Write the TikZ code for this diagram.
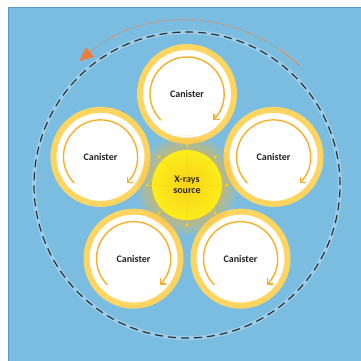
\documentclass[tikz,border=0pt]{standalone}
\usepackage{fontspec}
\setmainfont{Carlito}
\definecolor{sky}{HTML}{7BBDE1}
\definecolor{skyedge}{HTML}{5A9BC6}
\definecolor{rim}{HTML}{FFD562}
\definecolor{swirl}{HTML}{F5B02A}
\definecolor{track}{HTML}{2B2F33}
\definecolor{spin}{HTML}{EE7D3B}
\definecolor{beam}{HTML}{FFF21A}
\definecolor{core}{HTML}{F6D21C}
\definecolor{halo}{HTML}{F7B733}
\definecolor{ink}{HTML}{222222}
\usetikzlibrary{arrows.meta, positioning}
\pgfdeclareradialshading{canfill}{\pgfpoint{-6bp}{-6bp}}{color(0bp)=(white); color(30bp)=(white); color(50bp)=(black!9)}
\pgfdeclareradialshading{corefill}{\pgfpointorigin}{color(0bp)=(core); color(30bp)=(beam); color(50bp)=(beam)}
\tikzset{
  canister/.style={circle, draw=rim, line width=6pt, minimum size=94pt, shading=canfill,
                   text=ink, font=\bfseries\fontsize{10}{12}\selectfont},
  swirlarrow/.style={swirl, line width=1.4pt, -{Straight Barb[length=4pt,width=8pt]}},
  source/.style={circle, minimum size=70pt, shading=corefill, align=center,
                 text=ink, font=\bfseries\fontsize{10}{11}\selectfont},
  ray/.style={yellow!75!orange, line width=.4pt, draw opacity=.55, -{Triangle[length=3pt,width=3.5pt]}},
  orbit/.style={track, line width=1.2pt, dash pattern=on 8pt off 5pt},
  turn/.style={spin, line width=1.1pt, dash pattern=on 1pt off 1.6pt, -{Triangle[length=14pt,width=12pt]}},
}
\begin{document}
\begin{tikzpicture}[x=1pt,y=1pt]
\useasboundingbox (-187,-176) rectangle (174,185);
\fill[sky] (-178,-176) rectangle (174,177);
\draw[skyedge, line width=1pt] (-178,-176) -- (-178,177) -- (174,177);

% rotation path and direction
\draw[white, opacity=.25, line width=4pt] (0,0) circle (153);
\draw[orbit] (0,0) circle (153);
\draw[turn] (47:164) arc[start angle=47, end angle=131, radius=164];

% canisters around the source
\foreach \a [count=\i] in {90,162,234,306,18} {
  \node[canister] (can\i) at (\a:91) {Canister};
  \draw[swirlarrow] (can\i.center) ++(225:37) arc[start angle=225, end angle=-45, radius=37];
}

% x-ray source with glow
\foreach \r in {50,47,...,35}
  \fill[halo, opacity=.13] (0,0) circle (\r);
\node[source] (src) at (0,0) {X-rays\\source};
\foreach \a in {0,45,...,315}
  \draw[ray, fill opacity=.9] (src.center) ++(\a:3) -- (\a:42);
\draw[yellow!75!orange, line width=.4pt] (src.center) circle (2.2);
\end{tikzpicture}
\end{document}
